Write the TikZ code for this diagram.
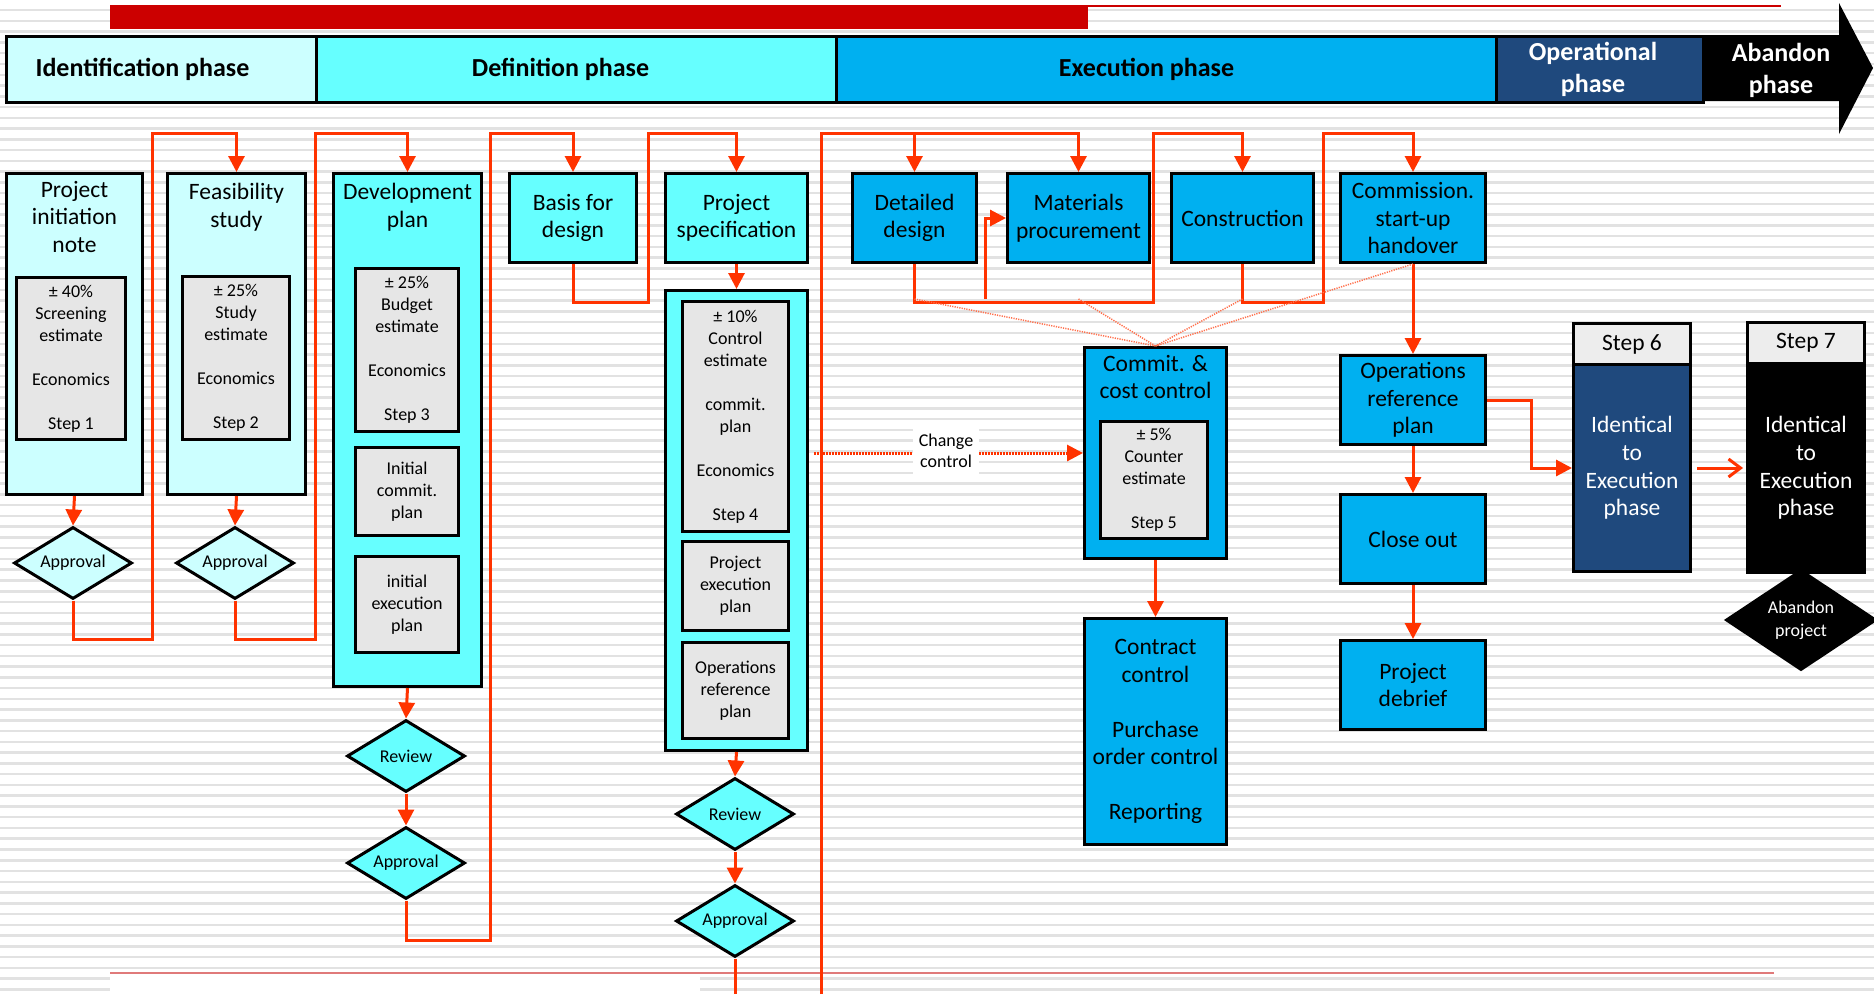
\documentclass[tikz,border=0pt]{standalone}
\usepackage{fontspec}
\setmainfont{Carlito}
\usetikzlibrary{arrows.meta,shapes.geometric}

\definecolor{idcyan}{HTML}{CCFFFF}
\definecolor{defcyan}{HTML}{66FFFF}
\definecolor{exblue}{HTML}{00B0F0}
\definecolor{opblue}{HTML}{1F497D}
\definecolor{boxgray}{HTML}{E6E6E6}
\definecolor{headgray}{HTML}{EDEDED}
\definecolor{flowred}{HTML}{FF3300}
\definecolor{barred}{HTML}{CC0000}
\definecolor{rulered}{HTML}{E07A7A}
\definecolor{stripegray}{HTML}{E2E2E2}

\newcommand\phfont{\fontsize{26}{32}\selectfont\bfseries}
\newcommand\bxfont{\fontsize{23.5}{27.5}\selectfont}
\newcommand\smfont{\fontsize{18}{22}\selectfont}
\newcommand\chfont{\fontsize{18}{21}\selectfont}

\tikzset{
  stripe/.style={stripegray,line width=2.5pt},
  phasebox/.style={draw=black,line width=3pt,inner sep=0pt,minimum height=66pt,anchor=north west},
  phtext/.style={font=\phfont,align=center,inner sep=0pt},
  box/.style={draw=black,line width=3pt,inner sep=0pt,align=center,font=\bxfont,anchor=north west},
  bxtext/.style={anchor=north,font=\bxfont,align=center,inner sep=0pt},
  inbox/.style={box,fill=boxgray,font=\smfont},
  dia/.style={diamond,draw=black,line width=3pt,inner sep=0pt,aspect=1.6,align=center,
    minimum width=118pt,minimum height=72pt,font=\smfont},
  wire/.style={draw=flowred,line width=3pt},
  flow/.style={wire,-{Triangle[length=16pt,width=16pt]}},
  fan/.style={draw=flowred!70,line width=1.5pt,dash pattern=on 1.2pt off 1.2pt},
  chgline/.style={draw=flowred,line width=3pt,dash pattern=on 1.5pt off 1.5pt,-{Triangle[length=16pt,width=16pt]}}
}

\begin{document}
\begin{tikzpicture}[x=1pt,y=-1pt]
\useasboundingbox (0,0) rectangle (1874,994);
\fill[white] (0,0) rectangle (1874,994);
\foreach \k in {0,...,92}
  \draw[stripe] (0,{10.2+10.76*\k}) -- (1874,{10.2+10.76*\k});
\fill[white] (110,975) rectangle (700,994);
\draw[rulered,line width=2.5pt] (110,973) -- (1774,973);

% top bar
\fill[barred] (110,5) rectangle (1088,29);
\draw[barred,line width=2pt] (1088,6) -- (1781,6);

% phases
\node[phasebox,fill=idcyan,minimum width=310pt,label={[phtext,xshift=-19pt]center:{Identification phase}}] (idph) at (5,35) {};
\node[phasebox,fill=defcyan,minimum width=520pt,label={[phtext,xshift=-16pt]center:{Definition phase}}] (defph) at (315,35) {};
\node[phasebox,fill=exblue,minimum width=660pt,label={[phtext,xshift=-20pt]center:{Execution phase}}] (exph) at (835,35) {};
\node[phasebox,fill=opblue,minimum width=207pt,label={[phtext,text=white,xshift=-7pt]center:{Operational\\phase}}] (opph) at (1495,35) {};
\fill[black] (1702,35) -- (1839,35) -- (1839,3) -- (1873,68) -- (1839,134) -- (1839,101) -- (1702,101) -- cycle;
\node[phtext,text=white] (abph) at (1781,70) {Abandon\\phase};

% identification
\node[box,fill=idcyan,minimum width=136pt,minimum height=321pt,
  label={[bxtext,yshift=-9pt,name=pint]north:{Project\\initiation\\note}}] (pin) at (5,172) {};
\node[inbox,minimum width=109pt,minimum height=162pt] (s1) at (15,276)
  {± 40\%\\Screening\\estimate\\[22pt]Economics\\[22pt]Step 1};
\node[dia,fill=idcyan] (ap1) at (73,563) {Approval};
\node[box,fill=idcyan,minimum width=138pt,minimum height=321pt,
  label={[bxtext,yshift=-11pt,name=feast]north:{Feasibility\\study}}] (feas) at (166,172) {};
\node[inbox,minimum width=107pt,minimum height=163pt] (s2) at (181,275)
  {± 25\%\\Study\\estimate\\[22pt]Economics\\[22pt]Step 2};
\node[dia,fill=idcyan] (ap2) at (235,563) {Approval};

% definition
\node[box,fill=defcyan,minimum width=148pt,minimum height=513pt,
  label={[bxtext,yshift=-11pt,name=devt]north:{Development\\plan}}] (dev) at (332,172) {};
\node[inbox,minimum width=103pt,minimum height=163pt] (s3) at (354,267)
  {± 25\%\\Budget\\estimate\\[22pt]Economics\\[22pt]Step 3};
\node[inbox,minimum width=103pt,minimum height=88pt] (icp) at (354,446) {Initial\\commit.\\plan};
\node[inbox,minimum width=103pt,minimum height=96pt] (iep) at (354,555) {initial\\execution\\plan};
\node[dia,fill=defcyan] (rv1) at (406,756) {Review};
\node[dia,fill=defcyan] (ap3) at (406,863) {Approval};
\node[box,fill=defcyan,minimum width=127pt,minimum height=89pt] (bfd) at (508,172) {Basis for\\design};
\node[box,fill=defcyan,minimum width=142pt,minimum height=89pt] (pspec) at (664,172) {Project\\specification};
\node[box,fill=defcyan,minimum width=142pt,minimum height=460pt] (spec) at (664,289) {};
\node[inbox,minimum width=106pt,minimum height=230pt] (s4) at (681,300)
  {± 10\%\\Control\\estimate\\[22pt]commit.\\plan\\[22pt]Economics\\[22pt]Step 4};
\node[inbox,minimum width=106pt,minimum height=89pt] (pep) at (681,540) {Project\\execution\\plan};
\node[inbox,minimum width=106pt,minimum height=96pt] (orp1) at (681,641) {Operations\\reference\\plan};
\node[dia,fill=defcyan] (rv2) at (735,814) {Review};
\node[dia,fill=defcyan] (ap4) at (735,921) {Approval};

% execution
\node[box,fill=exblue,minimum width=124pt,minimum height=89pt] (dd) at (851,172) {Detailed\\design};
\node[box,fill=exblue,minimum width=142pt,minimum height=89pt] (mp) at (1006,172) {Materials\\procurement};
\node[box,fill=exblue,minimum width=142pt,minimum height=89pt] (con) at (1170,172) {Construction};
\node[box,fill=exblue,minimum width=145pt,minimum height=89pt] (csh) at (1339,172) {Commission.\\start-up\\handover};
\node[box,fill=exblue,minimum width=142pt,minimum height=211pt,
  label={[bxtext,yshift=-9pt,name=ccct]north:{Commit. \&\\cost control}}] (ccc) at (1083,346) {};
\node[inbox,minimum width=107pt,minimum height=117pt] (s5) at (1099,420)
  {± 5\%\\Counter\\estimate\\[22pt]Step 5};
\node[box,fill=exblue,minimum width=142pt,minimum height=226pt] (cc) at (1083,617)
  {Contract\\control\\[27.5pt]Purchase\\order control\\[27.5pt]Reporting};
\node[box,fill=exblue,minimum width=145pt,minimum height=89pt] (orp2) at (1339,354) {Operations\\reference\\plan};
\node[box,fill=exblue,minimum width=145pt,minimum height=89pt] (co) at (1339,493) {Close out};
\node[box,fill=exblue,minimum width=145pt,minimum height=89pt] (pd) at (1339,639) {Project\\debrief};

% operational and abandon
\node[box,fill=headgray,minimum width=117pt,minimum height=41pt] (st6h) at (1572,322) {Step 6};
\node[box,fill=opblue,text=white,minimum width=117pt,minimum height=207pt,font=\fontsize{23.5}{27.7}\selectfont] (st6) at (1572,363) {Identical\\to\\Execution\\phase};
\node[box,fill=headgray,minimum width=117pt,minimum height=41pt] (st7h) at (1746,321) {Step 7};
\node[box,fill=black,text=white,minimum width=117pt,minimum height=209pt,font=\fontsize{23.5}{27.7}\selectfont] (st7) at (1746,362) {Identical\\to\\Execution\\phase};
\node[dia,fill=black,text=white,minimum width=150pt,minimum height=100pt,font=\fontsize{18}{23}\selectfont] (abpr) at (1801,620) {Abandon\\project};

% flow lines
\coordinate (bus) at (821,133);
\coordinate (jmp) at (985,299);
\draw[flow] (pin.south) -- (ap1.north);
\draw[flow] (ap1.south) -- ++(0,39) -| (152,133) -| (feas.north);
\draw[flow] (feas.south) -- (ap2.north);
\draw[flow] (ap2.south) -- ++(0,39) -| (315,133) -| (dev.north);
\draw[flow] (dev.south) -- (rv1.north);
\draw[flow] (rv1.south) -- (ap3.north);
\draw[flow] (ap3.south) -- ++(0,40) -| (490,133) -| (bfd.north);
\draw[flow] (bfd.south) -- ++(0,38) -| (648,133) -| (pspec.north);
\draw[flow] (pspec.south) -- (spec.north);
\draw[flow] (spec.south) -- (rv2.north);
\draw[flow] (rv2.south) -- (ap4.north);
\draw[wire] (ap4.south) -- (ap4.south |- 0,994);
\draw[flow] (bus |- 0,994) -- (bus) -| (mp.north);
\draw[flow] (dd.north |- bus) -- (dd.north);
\draw[flow] (dd.south) -- ++(0,38) -| (1153,133) -| (con.north);
\draw[flow] (jmp) |- (mp.west);
\draw[flow] (con.south) -- ++(0,38) -| (1323,133) -| (csh.north);
\draw[flow] (csh.south) -- (orp2.north);
\draw[flow] (orp2.south) -- (co.north);
\draw[flow] (co.south) -- (pd.north);
\draw[flow] (ccc.south) -- (cc.north);
\draw[flow] (orp2.east) -- ++(44,0) |- (st6.west);
\draw[wire,-{Straight Barb[length=12pt,width=18pt]},shorten <=5pt,shorten >=3pt] (st6.east) -- (st7.west);

% commitment lines
\draw[fan] (dd.south |- jmp) -- (ccc.north);
\draw[fan] (mp.south |- jmp) -- (ccc.north);
\draw[fan] (con.south |- jmp) -- (ccc.north);
\draw[fan] (csh.south) -- (ccc.north);
\draw[chgline] ([xshift=5pt]spec.east |- ccc.west) -- (ccc.west);
\node[fill=white,align=center,font=\chfont,minimum width=66pt,minimum height=48pt,inner sep=0pt] (chg) at (946,451) {Change\\control};
\end{tikzpicture}
\end{document}
